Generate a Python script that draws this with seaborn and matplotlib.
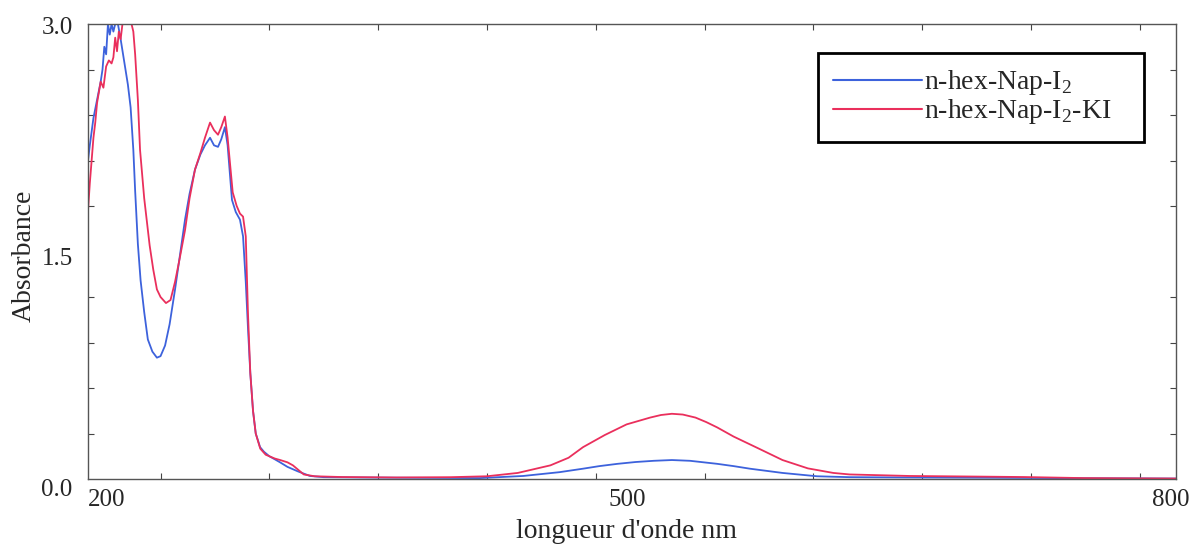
import numpy as np
import pandas as pd
import matplotlib
matplotlib.use("Agg")
import matplotlib.pyplot as plt
import matplotlib.transforms as mtransforms
from matplotlib.ticker import MultipleLocator, FixedLocator
import seaborn as sns

# UV-vis spectra (wavelength nm, absorbance)
nm_blue = [200, 201, 203, 205, 207, 208, 209, 210, 211, 212, 213, 214, 215, 216.5, 218, 220,
           222, 223.5, 225, 226, 227.5, 229, 231, 233, 235.5, 238, 240, 242.5, 245, 248, 251,
           253.5, 256, 259, 262, 264.5, 267.3, 269.5, 271.7, 273.5, 275.5, 277, 279.4, 281.5,
           283.8, 285.5, 287, 288.2, 289.5, 291, 292.5, 294.9, 297, 300, 303, 305.9, 310, 315.8,
           322.4, 330, 350, 380, 416, 440, 460, 473, 482, 492, 502, 512, 522, 532, 547, 556,
           565, 583, 602, 620, 650, 700, 750, 800]
abs_blue = [2.10, 2.2, 2.38, 2.5, 2.62, 2.7, 2.85, 2.8, 3.0, 2.93, 3.0, 2.95, 3.0, 3.0, 2.9, 2.75,
            2.6, 2.45, 2.17, 1.9, 1.55, 1.31, 1.1, 0.92, 0.84, 0.80, 0.81, 0.88, 1.02, 1.25, 1.5,
            1.71, 1.88, 2.04, 2.14, 2.2, 2.25, 2.2, 2.19, 2.24, 2.32, 2.2, 1.84, 1.76,
            1.71, 1.6, 1.3, 1.0, 0.7, 0.45, 0.3, 0.21, 0.18, 0.15, 0.13, 0.11, 0.08, 0.05,
            0.02, 0.012, 0.01, 0.008, 0.006, 0.02, 0.045, 0.068, 0.085, 0.1, 0.112, 0.12, 0.125, 0.12, 0.1, 0.085,
            0.068, 0.04, 0.018, 0.012, 0.01, 0.008, 0.005, 0.003]

nm_red = [200, 201, 202, 203, 204, 205, 206, 207, 208.5, 210, 211.5, 213, 214, 215, 216, 217,
          218, 219, 220, 222, 224, 225, 226, 227.5, 228.7, 231, 234, 236, 238, 240, 243, 245.5,
          248, 250.5, 253.5, 256, 259, 262, 264.5, 267.3, 269.5, 271.7, 273.5, 275.5, 277, 279.8,
          282, 283.8, 285.5, 287, 288.2, 289.5, 291, 292.5, 295, 298, 300, 303, 306, 310, 313,
          316, 319, 325, 340, 370, 400, 420, 437, 455, 465, 473, 485, 497, 510, 516, 522, 528,
          535, 541, 547, 556, 570, 583, 597, 611, 620, 653, 690, 716, 749, 800]
abs_red = [1.77, 1.95, 2.1, 2.25, 2.35, 2.48, 2.55, 2.62, 2.58, 2.72, 2.76, 2.74, 2.78, 2.91, 2.82, 2.95,
           2.9, 3.0, 3.0, 3.0, 3.0, 2.95, 2.8, 2.5, 2.17, 1.85, 1.54, 1.38, 1.25, 1.2, 1.16, 1.18,
           1.3, 1.45, 1.64, 1.85, 2.04, 2.15, 2.25, 2.35, 2.3, 2.27, 2.32, 2.39, 2.25, 1.89,
           1.8, 1.75, 1.73, 1.6, 1.1, 0.7, 0.45, 0.3, 0.2, 0.16, 0.15, 0.135, 0.125, 0.11, 0.09,
           0.06, 0.03, 0.018, 0.013, 0.01, 0.012, 0.018, 0.04, 0.09, 0.14, 0.21, 0.29, 0.36, 0.405, 0.422, 0.43, 0.425,
           0.405, 0.375, 0.34, 0.28, 0.2, 0.125, 0.07, 0.04, 0.03, 0.02, 0.016, 0.013, 0.006, 0.003]

label_blue = "n-hex-Nap-I$_\\mathrm{2}$"
label_red = "n-hex-Nap-I$_\\mathrm{2}$-KI"
x_ticks = [200, 500, 800]
y_ticks = [0, 1.5, 3.0]
y_ticklabels = ["0.0", "1.5", "3.0"]

df = pd.concat([
    pd.DataFrame({"nm": nm_blue, "A": abs_blue, "sample": label_blue}),
    pd.DataFrame({"nm": nm_red, "A": abs_red, "sample": label_red}),
], ignore_index=True)

sns.set_style("ticks")
plt.rcParams["font.family"] = ["Liberation Serif", "DejaVu Serif"]
plt.rcParams["mathtext.fontset"] = "custom"
plt.rcParams["mathtext.rm"] = "Liberation Serif"

fig = plt.figure(figsize=(11.96, 5.46), dpi=100)
ax = fig.add_axes([88 / 1196, 1 - 479 / 546, 1088 / 1196, 455 / 546])

sns.lineplot(data=df, x="nm", y="A", hue="sample", estimator=None, sort=True,
             palette={label_blue: "#3d62dc", label_red: "#ea2f5c"}, linewidth=1.3, ax=ax)

ax.set_xlim(200, 800)
ax.set_ylim(0, 3.0)
ax.xaxis.set_major_locator(FixedLocator(x_ticks))
ax.yaxis.set_major_locator(FixedLocator(y_ticks))
ax.xaxis.set_minor_locator(MultipleLocator(60))
ax.yaxis.set_minor_locator(MultipleLocator(0.3))
ax.set_yticklabels(y_ticklabels)
ax.set_xticklabels([str(t) for t in x_ticks])
ax.tick_params(which="major", length=0, labelsize=18)
ax.tick_params(axis="x", which="major", pad=7)
ax.tick_params(axis="y", which="major", pad=11)
ax.tick_params(which="minor", direction="in", length=4, width=0.8, color="#444444",
               top=True, bottom=True, left=True, right=True)

# nudge tick labels the way the original instrument printout places them
xl = ax.get_xticklabels()
xl[0].set_ha("left")
for lab, dx in zip(xl, [0, -5, -5]):
    lab.set_transform(lab.get_transform() + mtransforms.ScaledTranslation(dx / 100, 0, fig.dpi_scale_trans))
yl = ax.get_yticklabels()
for lab, dy in zip(yl, [-9, -5, -2]):
    lab.set_transform(lab.get_transform() + mtransforms.ScaledTranslation(0, dy / 100, fig.dpi_scale_trans))

for s in ax.spines.values():
    s.set_visible(True)
    s.set_color("#555555")
    s.set_linewidth(1.0)

ax.set_xlabel("longueur d'onde nm", fontsize=20)
ax.xaxis.set_label_coords((627 - 88) / 1088, -(519 - 479) / 455)
ax.set_ylabel("Absorbance", fontsize=20)
ax.yaxis.set_label_coords(-(88 - 37) / 1088, 0.49)

leg = ax.legend(loc="upper left",
                bbox_to_anchor=((818 - 88) / 1088, 0.70, 326 / 1088, (479 - 53) / 455 - 0.70),
                mode="expand", borderaxespad=0, fontsize=20, frameon=True, fancybox=False,
                handlelength=3.2, handletextpad=0.05, borderpad=0.55, labelspacing=0.0)
leg.get_frame().set_edgecolor("black")
leg.get_frame().set_linewidth(2.0)
leg.get_frame().set_alpha(1)
for line in leg.get_lines():
    line.set_linewidth(1.5)

fig.savefig("out.png", dpi=100)
